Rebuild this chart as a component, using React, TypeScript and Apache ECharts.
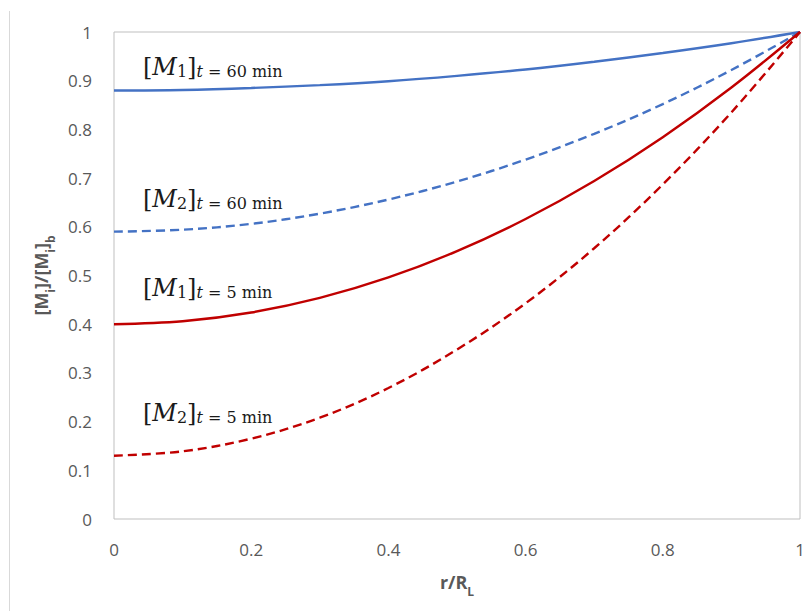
import React, { useEffect, useRef } from "react";
import * as echarts from "echarts";

const rValues = [0, 0.1, 0.2, 0.3, 0.4, 0.5, 0.6, 0.7, 0.8, 0.9, 1.0];
const m1At60 = [0.880, 0.881, 0.885, 0.891, 0.899, 0.910, 0.923, 0.939, 0.957, 0.977, 1.0];
const m2At60 = [0.590, 0.594, 0.606, 0.627, 0.656, 0.693, 0.738, 0.791, 0.852, 0.922, 1.0];
const m1At5 = [0.400, 0.406, 0.424, 0.454, 0.496, 0.550, 0.616, 0.694, 0.784, 0.886, 1.0];
const m2At5 = [0.130, 0.139, 0.165, 0.208, 0.269, 0.348, 0.443, 0.556, 0.687, 0.835, 1.0];

const curveLabels = [
  { idx: "1", sub: " = 60 min", top: 47 },
  { idx: "2", sub: " = 60 min", top: 179 },
  { idx: "1", sub: " = 5 min", top: 268 },
  { idx: "2", sub: " = 5 min", top: 393 },
];

const BLUE = "#4472C4";
const RED = "#C00000";
const AXIS_TEXT = "#595959";

export default function App() {
  const ref = useRef<HTMLDivElement>(null);
  useEffect(() => {
    if (!ref.current) return;
    const chart = echarts.init(ref.current, null, { renderer: "svg" });
    const pts = (arr: number[]) => rValues.map((r, i) => [r, arr[i]]);
    const serif = "'DejaVu Serif', serif";
    const rich = {
      b: { fontFamily: serif, fontSize: 24, fill: "#1a1a1a", lineHeight: 32, verticalAlign: "bottom" },
      m: { fontFamily: serif, fontSize: 24, fontStyle: "italic", fill: "#1a1a1a", lineHeight: 32, verticalAlign: "bottom" },
      s: { fontFamily: serif, fontSize: 16, fill: "#1a1a1a", lineHeight: 23, verticalAlign: "bottom" },
      si: { fontFamily: serif, fontSize: 16, fontStyle: "italic", fill: "#1a1a1a", lineHeight: 23, verticalAlign: "bottom" },
    };
    const graphics: any[] = curveLabels.map((l) => ({
      type: "text",
      x: 143,
      y: l.top,
      style: {
        text: `{b|[}{m|M}{s|${l.idx}}{b|]}{si|t}{s|${l.sub}}`,
        rich,
      },
    }));
    graphics.push({
      type: "line",
      shape: { x1: 9.5, y1: 11, x2: 9.5, y2: 611 },
      style: { stroke: "#D9D9D9", lineWidth: 1 },
    });
    const line = (name: string, data: number[], color: string, dashed: boolean) => ({
      name,
      type: "line",
      data: pts(data),
      smooth: 0.35,
      showSymbol: false,
      lineStyle: { color, width: 2.4, type: dashed ? [9, 5] : "solid" },
    });
    const nameStyle = {
      fontFamily: "'Open Sans', sans-serif",
      fontSize: 18,
      fontWeight: "bold",
      color: AXIS_TEXT,
      rich: {
        sub: {
          fontFamily: "'Open Sans', sans-serif",
          fontSize: 12,
          fontWeight: "bold",
          color: AXIS_TEXT,
          verticalAlign: "bottom",
          padding: [0, 0, -6, 0],
        },
      },
    };
    chart.setOption({
      animation: false,
      grid: {
        left: 114,
        right: 11,
        top: 32,
        bottom: 92,
        show: true,
        borderColor: "#BFBFBF",
        borderWidth: 1,
        backgroundColor: "transparent",
      },
      xAxis: {
        type: "value",
        min: 0,
        max: 1,
        interval: 0.2,
        name: "r/R{sub|L}",
        nameLocation: "middle",
        nameGap: 54,
        nameTextStyle: nameStyle,
        axisLine: { show: false },
        axisTick: { show: false },
        splitLine: { show: false },
        axisLabel: { color: AXIS_TEXT, fontSize: 17, fontFamily: "'Open Sans', sans-serif", margin: 22 },
      },
      yAxis: {
        type: "value",
        min: 0,
        max: 1,
        interval: 0.1,
        name: "[M{sub|i}]/[M{sub|i}]{sub|b}",
        nameLocation: "middle",
        nameGap: 64,
        nameTextStyle: nameStyle,
        axisLine: { show: false },
        axisTick: { show: false },
        splitLine: { show: false },
        axisLabel: { color: AXIS_TEXT, fontSize: 17, fontFamily: "'Open Sans', sans-serif", margin: 22 },
      },
      series: [
        line("[M1] t=60 min", m1At60, BLUE, false),
        line("[M2] t=60 min", m2At60, BLUE, true),
        line("[M1] t=5 min", m1At5, RED, false),
        line("[M2] t=5 min", m2At5, RED, true),
      ],
      graphic: graphics,
    });
    return () => chart.dispose();
  }, []);
  return (
    <div
      ref={ref}
      style={{ position: "fixed", left: 0, top: 0, width: 811, height: 611, background: "#fff" }}
    />
  );
}
